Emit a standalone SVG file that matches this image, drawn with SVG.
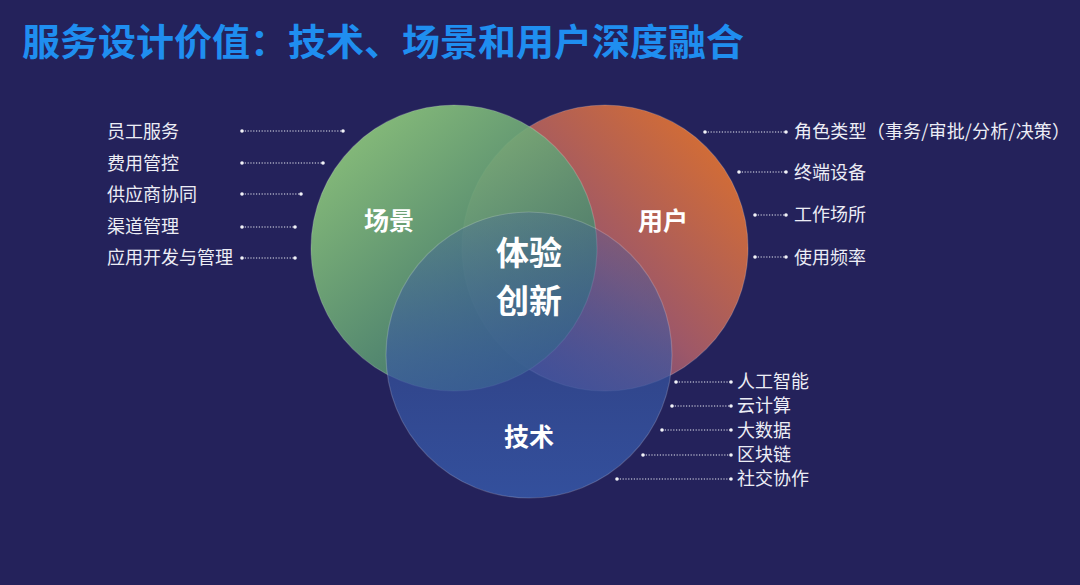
<svg xmlns="http://www.w3.org/2000/svg" width="1080" height="585" viewBox="0 0 1080 585">
<defs>
<linearGradient id="gGreen" x1="0.15" y1="0.1" x2="0.85" y2="0.9">
<stop offset="0" stop-color="#8fca7c"/>
<stop offset="0.6" stop-color="#5a9472"/>
<stop offset="1" stop-color="#3a7268"/>
</linearGradient>
<linearGradient id="gOrange" x1="0.9" y1="0.15" x2="0.15" y2="0.85">
<stop offset="0" stop-color="#f27a2e"/>
<stop offset="0.55" stop-color="#b3616a"/>
<stop offset="1" stop-color="#604a8c"/>
</linearGradient>
<linearGradient id="gBlue" x1="0.5" y1="0" x2="0.5" y2="1">
<stop offset="0" stop-color="#3d5a9e" stop-opacity="0.3"/>
<stop offset="0.5" stop-color="#3756a2" stop-opacity="0.65"/>
<stop offset="1" stop-color="#3452a0" stop-opacity="0.95"/>
</linearGradient>
<style>
.lbl{font-family:"Noto Sans CJK SC","Noto Sans",sans-serif;font-size:18px;fill:#ecedf5;}
.big{font-family:"Noto Sans CJK SC","Noto Sans",sans-serif;font-weight:bold;fill:#ffffff;text-anchor:middle;}
.dl{stroke:#e6e8f2;stroke-width:1.2;stroke-dasharray:1.2 1.6;fill:none;}
.dot{fill:#f2f3f8;}
.ring{stroke:#ffffff;stroke-opacity:0.18;stroke-width:1.2;}
</style>
</defs>
<rect width="1080" height="585" fill="#24225b"/>
<text x="22" y="56" font-family="'Noto Sans CJK SC','Noto Sans',sans-serif" font-weight="bold" font-size="37" fill="#1f8ef0" textLength="722" lengthAdjust="spacingAndGlyphs">服务设计价值：技术、场景和用户深度融合</text>

<g id="circle-user">
<circle class="ring" cx="605" cy="248" r="143" fill="url(#gOrange)" fill-opacity="0.85"/>
</g>
<g id="circle-scene">
<circle class="ring" cx="454" cy="248" r="143" fill="url(#gGreen)" fill-opacity="0.9"/>
</g>
<g id="circle-tech">
<circle class="ring" cx="529" cy="355" r="143" fill="url(#gBlue)"/>
</g>
<g id="labels-circles">
<text class="big" x="389" y="230" font-size="25">场景</text>
<text class="big" x="663" y="230" font-size="25">用户</text>
<text class="big" x="529" y="265" font-size="33">体验</text>
<text class="big" x="529" y="313" font-size="33">创新</text>
<text class="big" x="529" y="446" font-size="25">技术</text>
</g>

<g id="connectors">
<path class="dl" d="M242 131H343M242 163H323M242 194H301M242 227H295M242 258H295"/>
<path class="dl" d="M705 132H786M739 172H786M755 215H786M755 257H786"/>
<path class="dl" d="M676 382H731M672 406H731M662 430H731M643 455H731M617 479H731"/>
<g class="dot">
<circle cx="242" cy="131" r="1.8"/><circle cx="343" cy="131" r="1.8"/>
<circle cx="242" cy="163" r="1.8"/><circle cx="323" cy="163" r="1.8"/>
<circle cx="242" cy="194" r="1.8"/><circle cx="301" cy="194" r="1.8"/>
<circle cx="242" cy="227" r="1.8"/><circle cx="295" cy="227" r="1.8"/>
<circle cx="242" cy="258" r="1.8"/><circle cx="295" cy="258" r="1.8"/>
<circle cx="705" cy="132" r="1.8"/><circle cx="786" cy="132" r="1.8"/>
<circle cx="739" cy="172" r="1.8"/><circle cx="786" cy="172" r="1.8"/>
<circle cx="755" cy="215" r="1.8"/><circle cx="786" cy="215" r="1.8"/>
<circle cx="755" cy="257" r="1.8"/><circle cx="786" cy="257" r="1.8"/>
<circle cx="676" cy="382" r="1.8"/><circle cx="731" cy="382" r="1.8"/>
<circle cx="672" cy="406" r="1.8"/><circle cx="731" cy="406" r="1.8"/>
<circle cx="662" cy="430" r="1.8"/><circle cx="731" cy="430" r="1.8"/>
<circle cx="643" cy="455" r="1.8"/><circle cx="731" cy="455" r="1.8"/>
<circle cx="617" cy="479" r="1.8"/><circle cx="731" cy="479" r="1.8"/>
</g>
</g>

<g id="labels-scene">
<text class="lbl" x="107" y="138">员工服务</text>
<text class="lbl" x="107" y="170">费用管控</text>
<text class="lbl" x="107" y="201">供应商协同</text>
<text class="lbl" x="107" y="233">渠道管理</text>
<text class="lbl" x="107" y="264">应用开发与管理</text>
</g>
<g id="labels-user">
<text class="lbl" x="794" y="138" textLength="276" lengthAdjust="spacing">角色类型（事务/审批/分析/决策）</text>
<text class="lbl" x="794" y="179">终端设备</text>
<text class="lbl" x="794" y="221">工作场所</text>
<text class="lbl" x="794" y="264">使用频率</text>
</g>
<g id="labels-tech">
<text class="lbl" x="737" y="388">人工智能</text>
<text class="lbl" x="737" y="412">云计算</text>
<text class="lbl" x="737" y="437">大数据</text>
<text class="lbl" x="737" y="461">区块链</text>
<text class="lbl" x="737" y="485">社交协作</text>
</g>
</svg>
